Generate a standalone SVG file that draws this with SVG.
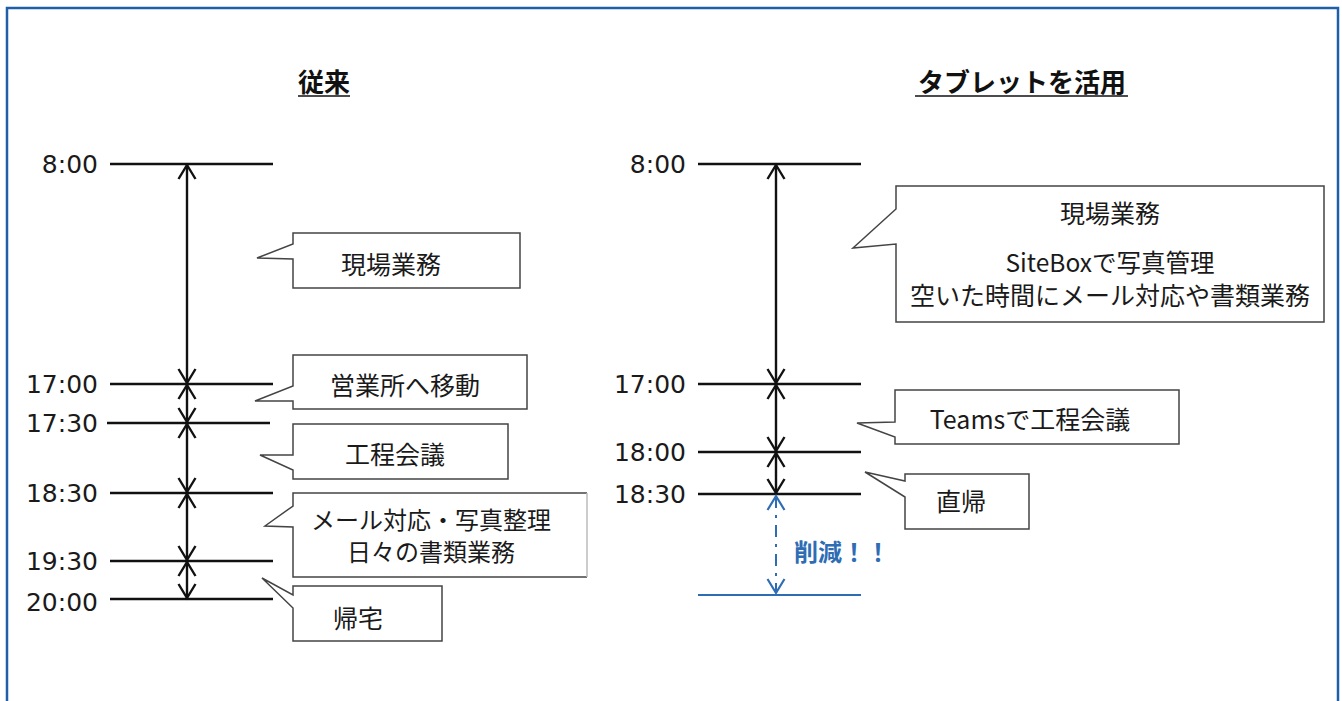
<svg xmlns="http://www.w3.org/2000/svg" width="1342" height="701" viewBox="0 0 1342 701">
<style>
.t{font-family:"DejaVu Sans","Noto Sans",sans-serif;font-size:25px;fill:#1a1a1a;text-anchor:end;dominant-baseline:central}
.j{font-family:"Noto Sans CJK JP","Noto Sans",sans-serif;font-size:25px;fill:#1a1a1a;text-anchor:middle;dominant-baseline:central}
.s{font-size:24.5px}
.m{font-size:24px}
.h{font-family:"Noto Sans CJK JP","Noto Sans",sans-serif;font-size:26px;font-weight:bold;fill:#111;text-anchor:middle;dominant-baseline:central}
.tick{stroke:#111;stroke-width:2.5;fill:none}
.arr{stroke:#111;stroke-width:2.4;fill:none;marker-start:url(#ah);marker-end:url(#ah)}
.call{fill:#fff;stroke:#444;stroke-width:1.5;stroke-linejoin:miter}
</style>
<defs>
<marker id="ah" markerUnits="userSpaceOnUse" markerWidth="20" markerHeight="20" refX="14" refY="8.5" orient="auto-start-reverse" overflow="visible">
<path d="M0,0 L14,8.5 L0,17" fill="none" stroke="#111" stroke-width="2.4"/>
</marker>
<marker id="ahb" markerUnits="userSpaceOnUse" markerWidth="20" markerHeight="20" refX="14" refY="8.5" orient="auto-start-reverse" overflow="visible">
<path d="M0,0 L14,8.5 L0,17" fill="none" stroke="#2e6db4" stroke-width="2.2" stroke-dasharray="none"/>
</marker>
</defs>
<rect width="1342" height="701" fill="#fff"/>
<rect id="frame" x="7" y="8" width="1331" height="720" fill="none" stroke="#1f5fa8" stroke-width="2.5"/>

<g id="title-left">
<text class="h" x="324" y="80">従来</text>
<line x1="298" y1="96" x2="350" y2="96" stroke="#111" stroke-width="1.5"/>
</g>
<g id="title-right">
<text class="h" x="1022" y="80">タブレットを活用</text>
<line x1="915" y1="96" x2="1128" y2="96" stroke="#111" stroke-width="1.5"/>
</g>

<g id="left-timeline">
<line class="tick" x1="110" y1="164" x2="273" y2="164"/>
<line class="tick" x1="110" y1="384" x2="273" y2="384"/>
<line class="tick" x1="107" y1="423" x2="270" y2="423"/>
<line class="tick" x1="110" y1="493" x2="273" y2="493"/>
<line class="tick" x1="110" y1="561" x2="273" y2="561"/>
<line class="tick" x1="110" y1="599" x2="273" y2="599"/>
<text class="t" x="98" y="164">8:00</text>
<text class="t" x="98" y="384">17:00</text>
<text class="t" x="98" y="423">17:30</text>
<text class="t" x="98" y="493">18:30</text>
<text class="t" x="98" y="561">19:30</text>
<text class="t" x="98" y="602">20:00</text>
</g>

<g id="right-timeline">
<line class="tick" x1="698" y1="164" x2="861" y2="164"/>
<line class="tick" x1="698" y1="384" x2="861" y2="384"/>
<line class="tick" x1="698" y1="452" x2="861" y2="452"/>
<line class="tick" x1="698" y1="494" x2="861" y2="494"/>
<line x1="698" y1="595" x2="861" y2="595" stroke="#2e6db4" stroke-width="2.2"/>
<text class="t" x="686" y="164">8:00</text>
<text class="t" x="686" y="384">17:00</text>
<text class="t" x="686" y="452">18:00</text>
<text class="t" x="686" y="494">18:30</text>
</g>

<g id="connectors">
<line class="arr" x1="187" y1="165" x2="187" y2="383"/>
<line class="arr" x1="187" y1="385" x2="187" y2="422"/>
<line class="arr" x1="187" y1="424" x2="187" y2="492"/>
<line class="arr" x1="187" y1="494" x2="187" y2="560"/>
<line class="arr" x1="187" y1="562" x2="187" y2="598"/>
<line class="arr" x1="776" y1="165" x2="776" y2="383"/>
<line class="arr" x1="776" y1="385" x2="776" y2="451"/>
<line class="arr" x1="776" y1="453" x2="776" y2="493"/>
<line x1="776" y1="496" x2="776" y2="593" stroke="#2e6db4" stroke-width="2" stroke-dasharray="12 7 3 7" marker-start="url(#ahb)" marker-end="url(#ahb)"/>
</g>

<g id="call-genba-left">
<path class="call" d="M293,233 H520 V288 H293 V259 L257,258 L293,244 Z"/>
<text class="j" x="391" y="263">現場業務</text>
</g>
<g id="call-idou">
<path class="call" d="M293,355 H527 V409 H293 V401 L255,401 L293,386 Z"/>
<text class="j" x="405" y="384">営業所へ移動</text>
</g>
<g id="call-kaigi">
<path class="call" d="M293,424 H508 V479 H293 V470 L260,455 L293,455 Z"/>
<text class="j" x="395" y="453">工程会議</text>
</g>
<g id="call-mail">
<path d="M587,493 H293 V506 L265,526 L293,527 V577 H587" fill="#fff" stroke="#444" stroke-width="1.5"/>
<line x1="587" y1="493" x2="587" y2="577" stroke="#bbb" stroke-width="1.5"/>
<text class="j m" x="431" y="518">メール対応・写真整理</text>
<text class="j m" x="431" y="550">日々の書類業務</text>
</g>
<g id="call-kitaku">
<path class="call" d="M293,586 H442 V641 H293 V608 L262,578 L293,595 Z"/>
<text class="j" x="358" y="617">帰宅</text>
</g>

<g id="call-genba-right">
<path class="call" d="M896,186 H1324 V322 H896 V244 L853,248 L896,209 Z"/>
<text class="j" x="1110" y="212">現場業務</text>
<text class="j s" x="1110" y="261">SiteBoxで写真管理</text>
<text class="j" x="1110" y="294">空いた時間にメール対応や書類業務</text>
</g>
<g id="call-teams">
<path class="call" d="M895,390 H1179 V444 H895 V437 L857,423 L895,422 Z"/>
<text class="j" x="1030" y="418">Teamsで工程会議</text>
</g>
<g id="call-chokki">
<path class="call" d="M905,474 H1029 V529 H905 V497 L865,472 L905,481 Z"/>
<text class="j" x="961" y="500">直帰</text>
</g>

<g id="label-sakugen">
<text x="794" y="550" font-family="'Noto Sans CJK JP','Noto Sans',sans-serif" font-size="24" font-weight="bold" fill="#2e6db4" dominant-baseline="central">削減！！</text>
</g>
</svg>
